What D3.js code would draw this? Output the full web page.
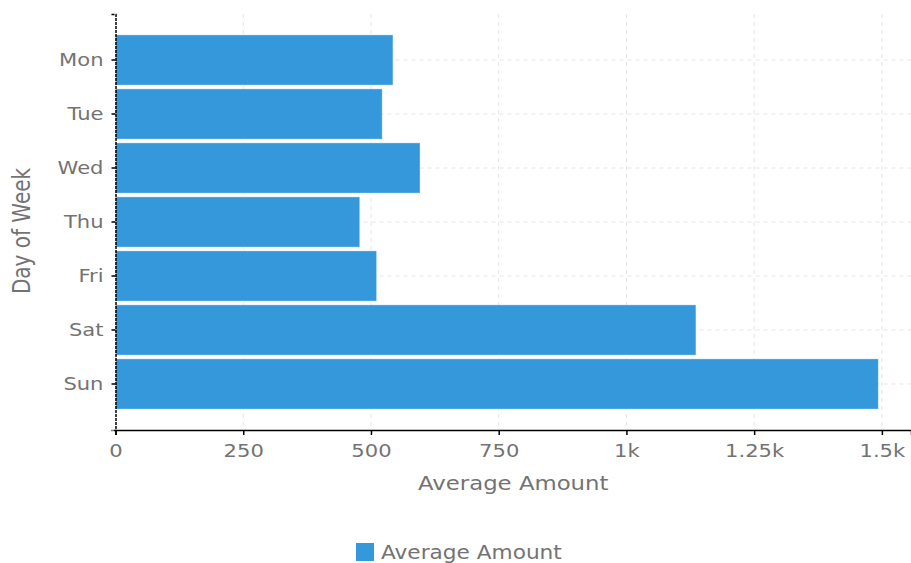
<!DOCTYPE html>
<html>
<head>
<meta charset="utf-8">
<script src="https://cdn.jsdelivr.net/npm/d3@7"></script>
<style>
  html, body { margin: 0; padding: 0; background: #fff; }
  svg { display: block; font-family: "DejaVu Sans", sans-serif; }
</style>
</head>
<body>
<svg id="chart" width="911" height="563"></svg>
<script>
const categories = ["Mon", "Tue", "Wed", "Thu", "Fri", "Sat", "Sun"];
const values = [543, 522, 596, 478, 511, 1136, 1493];
const xTicks = [0, 250, 500, 750, 1000, 1250, 1500];
const seriesName = "Average Amount";
const xTitle = "Average Amount";
const yTitle = "Day of Week";

const W = 911, H = 563;
const sx = 1.14; // horizontal text stretch seen in the reference
const m = { left: 115.5, right: 0, top: 14, bottom: 133 };
const color = "#3498db";
const textColor = "#737373";

const svg = d3.select("#chart");
const x = d3.scaleLinear().domain([0, 1557]).range([m.left, W - m.right]);
const y = d3.scaleBand().domain(categories).range([m.top, H - m.bottom])
  .paddingInner(0.07).paddingOuter(0.387);
const y0 = H - m.bottom;

// gridlines
svg.append("g").selectAll("line").data(xTicks.slice(1)).join("line")
  .attr("x1", d => x(d)).attr("x2", d => x(d))
  .attr("y1", m.top).attr("y2", y0)
  .attr("stroke", "#e4e4e4").attr("stroke-dasharray", "4,4");
svg.append("g").selectAll("line").data(categories).join("line")
  .attr("x1", m.left).attr("x2", W)
  .attr("y1", d => y(d) + y.bandwidth() / 2).attr("y2", d => y(d) + y.bandwidth() / 2)
  .attr("stroke", "#e4e4e4").attr("stroke-dasharray", "4,4");

// bars
svg.append("g").selectAll("rect").data(categories).join("rect")
  .attr("x", x(0))
  .attr("y", (d) => y(d))
  .attr("width", (d, i) => x(values[i]) - x(0))
  .attr("height", y.bandwidth())
  .attr("fill", color)
  .attr("stroke", "#fff").attr("stroke-opacity", 0.35).attr("stroke-width", 1);

// x axis
const gx = svg.append("g").attr("transform", `translate(0,${y0})`)
  .call(d3.axisBottom(x).tickValues(xTicks).tickFormat(d3.format("~s")).tickSizeOuter(0).tickSize(5));
gx.select(".domain").attr("stroke", "#000").attr("stroke-width", 1.5);
gx.selectAll(".tick line").attr("stroke", "#000").attr("stroke-width", 1.5);
gx.selectAll("text")
  .attr("y", null).attr("dy", null)
  .attr("transform", `translate(0,27) scale(${sx},1)`)
  .attr("fill", textColor).attr("font-size", 18.5).attr("font-family", "DejaVu Sans");

// y axis
const gy = svg.append("g").attr("transform", `translate(${m.left},0)`)
  .call(d3.axisLeft(y).tickSizeOuter(0).tickSize(4));
gy.select(".domain").attr("stroke", "#000").attr("stroke-width", 1.5).attr("stroke-dasharray", "3,1");
gy.selectAll(".tick line").attr("stroke", "#000").attr("stroke-width", 1.5);
gy.selectAll("text")
  .attr("x", null).attr("dy", "0.35em")
  .attr("transform", `translate(-12,0) scale(${sx},1)`)
  .attr("fill", textColor).attr("font-size", 18.5).attr("font-family", "DejaVu Sans");

// axis titles
svg.append("text")
  .attr("transform", `translate(${(m.left + W) / 2},${y0 + 60}) scale(${sx},1)`)
  .attr("text-anchor", "middle").attr("fill", textColor)
  .attr("font-size", 20).text(xTitle);
svg.append("text")
  .attr("transform", `translate(30,${(m.top + y0) / 2 + 9}) scale(1.2,1) rotate(-90)`)
  .attr("text-anchor", "middle").attr("fill", textColor)
  .attr("font-size", 20).text(yTitle);

// legend
const lg = svg.append("g").attr("transform", "translate(356,543)");
lg.append("rect").attr("width", 18).attr("height", 18).attr("fill", color);
lg.append("text").attr("transform", `translate(25,16) scale(${sx},1)`)
  .attr("fill", textColor).attr("font-size", 19).text(seriesName);
</script>
</body>
</html>
